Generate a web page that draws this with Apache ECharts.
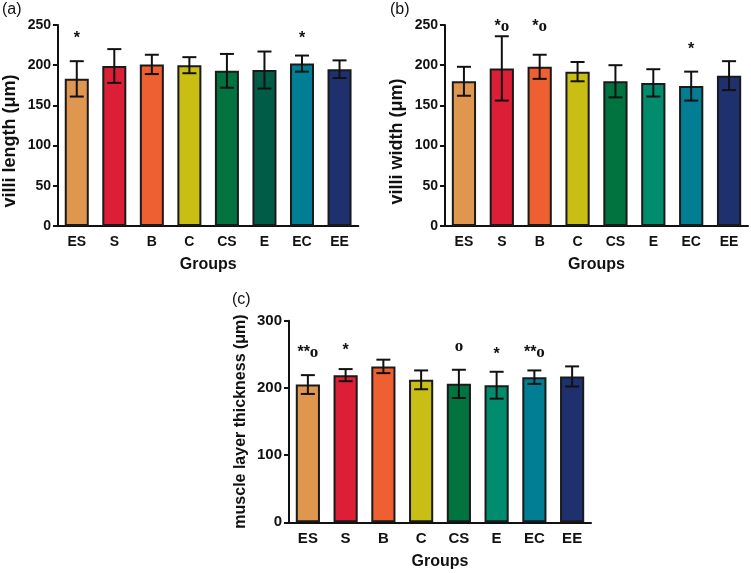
<!DOCTYPE html>
<html><head><meta charset="utf-8">
<script src="https://cdn.jsdelivr.net/npm/echarts@6/dist/echarts.min.js"></script>
<style>html,body{margin:0;padding:0;background:#fff}#c{width:751px;height:573px}</style>
</head><body><div id="c"></div>
<script>
const categories = ['ES','S','B','C','CS','E','EC','EE'];
const lengthMean = [183,199,201,200,193,194,202,195];
const lengthSD   = [22,21,12,10,21,23,10,11];
const lengthAnn  = ['*','','','','','','*',''];
const lengthAnnY = [233,null,null,null,null,null,233,null];
const widthMean  = [180,196,198,192,180,178,174,187];
const widthSD    = [18,40,15,12,20,17,18,18];
const widthAnn   = ['','*o','*o','','','','*',''];
const widthAnnY  = [null,248,248,null,null,null,220,null];
const muscleMean = [205,219,232,212,206,204,216,217];
const muscleSD   = [14,9,10,14,21,20,10,15];
const muscleAnn  = ['**o','*','','','o','*','**o',''];
const muscleAnnY = [252,256,null,null,261,250,252,null];
const colorsA = ['#DF964F','#DC1F37','#EE5F31','#C9BE14','#00733F','#005C46','#017E93','#1F306E'];
const colorsBC = ['#DF964F','#DC1F37','#EE5F31','#C9BE14','#00733F','#008C6D','#017E93','#1F306E'];

const FONT = "'Liberation Sans', Arial, sans-serif";
const grids = [
  {left:56.6, width:301.7, top:25, height:201},
  {left:445, width:303, top:25, height:201},
  {left:289, width:302, top:320.7, height:201.6}
];
const panels = [
  {mean:lengthMean, sd:lengthSD, ann:lengthAnn, annY:lengthAnnY, colors:colorsA, max:250, interval:50, yname:'villi length (\u03bcm)', fs:14, nfs:18, npad:[0,31,0,0], ngap:39},
  {mean:widthMean, sd:widthSD, ann:widthAnn, annY:widthAnnY, colors:colorsBC, max:250, interval:50, yname:'villi width (\u03bcm)', fs:14, nfs:18, npad:[0,32,0,0], ngap:39},
  {mean:muscleMean, sd:muscleSD, ann:muscleAnn, annY:muscleAnnY, colors:colorsBC, max:300, interval:100, yname:'muscle layer thickness (\u03bcm)', fs:15, nfs:16, npad:[0,0,0,0], ngap:40}
];

const xAxis = [], yAxis = [], series = [];
panels.forEach((p, k) => {
  xAxis.push({
    type:'category', gridIndex:k, data:categories,
    name:'Groups', nameLocation:'middle', nameGap:31,
    nameTextStyle:{fontFamily:FONT, fontWeight:'bold', fontSize:16, color:'#111', verticalAlign:'top'},
    axisLine:{lineStyle:{color:'#111', width:2}},
    axisTick:{alignWithLabel:true, length:5, lineStyle:{color:'#111', width:2}},
    axisLabel:{fontFamily:FONT, fontWeight:'bold', fontSize:p.fs, color:'#111', margin:9}
  });
  yAxis.push({
    type:'value', gridIndex:k, min:0, max:p.max, interval:p.interval,
    name:p.yname, nameLocation:'middle', nameGap:p.ngap,
    nameTextStyle:{fontFamily:FONT, fontWeight:'bold', fontSize:p.nfs, color:'#111', padding:p.npad},
    axisLine:{show:true, lineStyle:{color:'#111', width:2}},
    axisTick:{show:true, length:5, lineStyle:{color:'#111', width:2}},
    axisLabel:{fontFamily:FONT, fontWeight:'bold', fontSize:p.fs, color:'#111', margin:7},
    splitLine:{show:false}
  });
  series.push({
    type:'bar', xAxisIndex:k, yAxisIndex:k, barWidth:'64%',
    data:p.mean.map((v,i)=>({value:v, itemStyle:{color:p.colors[i]}})),
    itemStyle:{borderColor:'#1a1a1a', borderWidth:2},
    silent:true, animation:false
  });
  series.push({
    type:'custom', xAxisIndex:k, yAxisIndex:k, animation:false, silent:true,
    data:p.mean.map((v,i)=>[i, v, p.sd[i]]),
    renderItem:(params, api) => {
      const x = api.value(0), m = api.value(1), s = api.value(2);
      const hi = api.coord([x, m + s]), lo = api.coord([x, m - s]);
      const w = 7;
      const st = {stroke:'#111', lineWidth:2};
      return {type:'group', children:[
        {type:'line', shape:{x1:hi[0], y1:hi[1], x2:lo[0], y2:lo[1]}, style:st},
        {type:'line', shape:{x1:hi[0]-w, y1:hi[1], x2:hi[0]+w, y2:hi[1]}, style:st},
        {type:'line', shape:{x1:lo[0]-w, y1:lo[1], x2:lo[0]+w, y2:lo[1]}, style:st}
      ]};
    },
    z:5
  });
  const annData = [];
  p.ann.forEach((t,i)=>{ if (t) annData.push([i, p.annY[i], t]); });
  series.push({
    type:'custom', xAxisIndex:k, yAxisIndex:k, animation:false, silent:true,
    data:annData,
    renderItem:(params, api) => {
      const d = annData[params.dataIndex];
      const pt = api.coord([d[0], d[1]]);
      const txt = d[2];
      const stars = txt.replace(/o/g,'');
      const hasO = txt.indexOf('o') >= 0;
      let rich = '';
      if (stars) rich += '{s|' + stars + '}';
      if (hasO) rich += '{o|o}';
      return {type:'text', x:pt[0], y:pt[1], style:{
        text:rich, align:'center', verticalAlign:'middle',
        rich:{
          s:{fontFamily:FONT, fontWeight:'bold', fontSize:16, fill:'#111', verticalAlign:'middle'},
          o:{fontFamily:"'Liberation Serif', 'Times New Roman', serif", fontWeight:'bold', fontSize:17, fill:'#111', verticalAlign:'middle'}
        }
      }};
    },
    z:6
  });
});

const chart = echarts.init(document.getElementById('c'), null, {renderer:'canvas'});
chart.setOption({
  animation:false,
  backgroundColor:'#fff',
  grid: grids,
  xAxis, yAxis, series,
  graphic:[
    {type:'text', left:2, top:2, style:{text:'(a)', fontFamily:FONT, fontSize:16, fill:'#111'}},
    {type:'text', left:390, top:2, style:{text:'(b)', fontFamily:FONT, fontSize:16, fill:'#111'}},
    {type:'text', left:232, top:292, style:{text:'(c)', fontFamily:FONT, fontSize:16, fill:'#111'}}
  ]
});
</script></body></html>
